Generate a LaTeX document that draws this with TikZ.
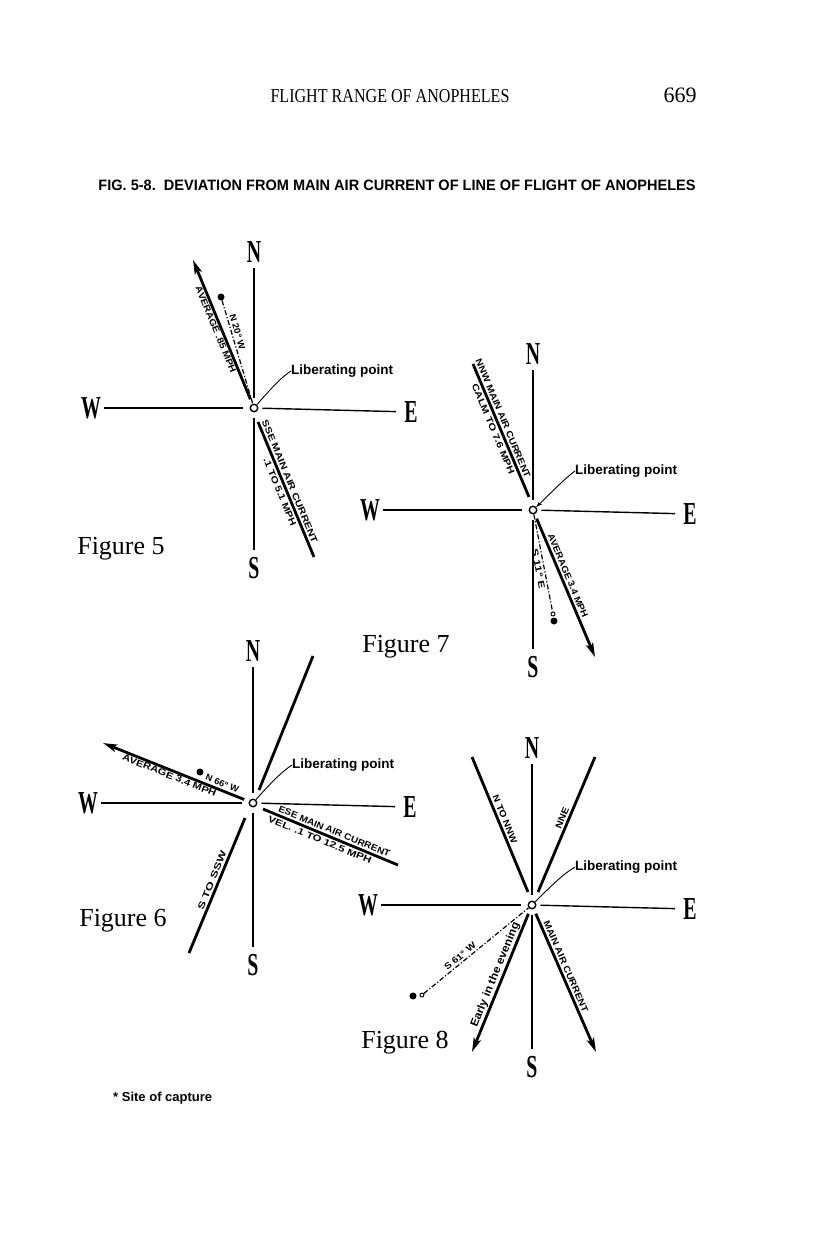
\documentclass[tikz,border=0pt]{standalone}
\usepackage{fontspec}
\setmainfont{Liberation Serif}
\setsansfont{Liberation Sans}
\usetikzlibrary{arrows.meta,calc}
\newcommand\lb[2]{\resizebox{#1pt}{6.3pt}{\sffamily\bfseries #2}}
\newcommand\lbx[2]{\resizebox{#1pt}{8pt}{\sffamily\bfseries #2}}
\newcommand\cmpL[1]{\scalebox{0.62}[1]{\fontsize{32}{32}\selectfont\bfseries #1}}
\tikzset{
  axis/.style={line width=1.4pt},
  wind/.style={line width=2.8pt},
  flight/.style={line width=2.8pt,shorten <=5pt,-{Stealth[length=14pt,width=7.5pt,inset=3pt]}},
  hub/.style={circle,draw,line width=1.4pt,minimum size=7.5pt,inner sep=0pt},
  cmp/.style={inner sep=0pt},
  lab/.style={inner sep=2pt,sloped},
  libl/.style={anchor=west,inner sep=0pt,font=\sffamily\bfseries\fontsize{13.5}{14}\selectfont},
  leader/.style={line width=0.9pt},
  track/.style={line width=1.2pt,dash pattern=on 5pt off 2pt on 1.2pt off 2pt},
  site/.style={circle,fill,inner sep=0pt,minimum size=7pt},
  ring/.style={circle,draw,line width=0.9pt,inner sep=0pt,minimum size=4pt},
  figlbl/.style={inner sep=0pt,font=\fontsize{26}{26}\selectfont}
}
\newcommand\rose[7]{%
  \node[hub] (o#1) at (#2,#3) {};
  \node[cmp] (N#1) at (#2,#4) {\cmpL{N}};
  \node[cmp] (S#1) at (#2,#5) {\cmpL{S}};
  \node[cmp] (W#1) at (#6,#3) {\cmpL{W}};
  \node[cmp] (E#1) at (#7,#3+4) {\cmpL{E}};
  \draw[axis,shorten <=5pt,shorten >=6pt] (N#1) -- (o#1);
  \draw[axis,shorten <=6pt,shorten >=7pt] (o#1) -- (S#1);
  \draw[axis,shorten <=3pt,shorten >=7pt] (W#1) -- (o#1);
  \draw[axis,shorten <=4pt,shorten >=8pt] (o#1) -- (E#1);
}
\begin{document}
\begin{tikzpicture}[x=1pt,y=-1pt]
\fill[white] (0,0) rectangle (816,1234);
\useasboundingbox (0,0) rectangle (816,1234);

% header
\node[inner sep=0pt] (hdr) at (390,96) {\resizebox{239pt}{13pt}{FLIGHT RANGE OF ANOPHELES}};
\node[inner sep=0pt] (pg) at (680,95) {\fontsize{22}{22}\selectfont 669};
\node[inner sep=0pt] (ttl) at (397,185) {\resizebox{597pt}{10.5pt}{\sffamily\bfseries FIG. 5-8.\ \ DEVIATION FROM MAIN AIR CURRENT OF LINE OF FLIGHT OF ANOPHELES}};

% ---------------- Figure 5
\rose{5}{254}{408}{252}{568}{91}{411}
\coordinate (t5) at (193,260);
\draw[flight] (o5) -- (t5);
\path (t5) -- (o5) node[lab,below,pos=0.47] (a5) {\lb{93}{AVERAGE .85 MPH}};
\node[site] (d5) at (221,297) {};
\draw[track] (d5) -- (o5) node[lab,above,pos=0.32] (n5) {\lb{36}{N 20\textdegree\ W}};
\coordinate (w5a) at (258,422);
\coordinate (w5b) at (314,557);
\draw[wind] (w5a) -- (w5b)
  node[lab,above,pos=0.46] (s5a) {\lb{132}{SSE MAIN AIR CURRENT}}
  node[lab,below,pos=0.5] (s5b) {\lb{72}{.1 TO 5.1 MPH}};
\node[libl] (L5) at (291,371) {Liberating point};
\draw[leader] (L5.west) .. controls (280,378) and (268,392) .. (o5);
\node[figlbl] (f5) at (121,549) {Figure 5};

% ---------------- Figure 7
\rose{7}{533}{510}{354}{667}{370}{690}
\coordinate (w7a) at (473,364);
\coordinate (w7b) at (529,497);
\draw[wind] (w7a) -- (w7b)
  node[lab,above,pos=0.43] (s7a) {\lb{128}{NNW MAIN AIR CURRENT}}
  node[lab,below,pos=0.47] (s7b) {\lb{97}{CALM TO 7.6 MPH}};
\node[libl] (L7) at (575,471) {Liberating point};
\draw[leader,-{Stealth[length=6pt,width=4pt]}] (L7.west) .. controls (563,480) and (552,492) .. (o7);
\coordinate (t7) at (595,657);
\draw[flight] (o7) -- (t7) node[lab,above,pos=0.45] (a7) {\lb{90}{AVERAGE 3.4 MPH}};
\node[ring] (r7) at (553,614) {};
\node[site] (d7) at (554,621) {};
\draw[track] (o7) -- (r7) node[lab,below,pos=0.55] (n7) {\lb{40}{S 11\textdegree\ E}};
\node[figlbl] (f7) at (406,647) {Figure 7};

% ---------------- Figure 6
\rose{6}{253}{803}{651}{965}{88}{410}
\coordinate (w6a) at (259,790);
\coordinate (w6b) at (313,656);
\draw[wind] (w6a) -- (w6b);
\coordinate (t6) at (103,743);
\draw[flight] (o6) -- (t6);
\path (t6) -- (o6)
  node[lab,below,pos=0.47] (a6) {\lb{100}{AVERAGE 3.4 MPH}}
  node[lab,above=1.5pt,pos=0.8] (n6) {\lb{35}{N 66\textdegree\ W}};
\node[site] (d6) at (200,772) {};
\coordinate (w6c) at (263,809);
\coordinate (w6d) at (398,865);
\draw[wind] (w6c) -- (w6d)
  node[lab,above,pos=0.51] (s6a) {\lb{120}{ESE MAIN AIR CURRENT}}
  node[lab,below,pos=0.44] (s6b) {\lb{111}{VEL. .1 TO 12.5 MPH}};
\coordinate (w6e) at (189,953);
\coordinate (w6f) at (245,818);
\draw[wind] (w6e) -- (w6f) node[lab,above,pos=0.52] (s6c) {\lb{62}{S TO SSW}};
\node[libl] (L6) at (292,765) {Liberating point};
\draw[leader] (L6.west) .. controls (281,772) and (268,786) .. (o6);
\node[figlbl] (f6) at (123,921) {Figure 6};

% ---------------- Figure 8
\rose{8}{532}{905}{748}{1067}{368}{690}
\coordinate (w8a) at (472,757);
\coordinate (w8b) at (528,892);
\draw[wind] (w8a) -- (w8b) node[lab,above,pos=0.48] (s8a) {\lb{51}{N TO NNW}};
\coordinate (w8c) at (538,892);
\coordinate (w8d) at (595,757);
\draw[wind] (w8c) -- (w8d) node[lab,above,pos=0.53] (s8b) {\lb{22}{NNE}};
\node[ring] (r8) at (422,995) {};
\node[site] (d8) at (413,996) {};
\draw[track] (r8) -- (o8) node[lab,above,pos=0.38] (n8) {\lb{38}{S 61\textdegree\ W}};
\coordinate (t8a) at (472,1052);
\coordinate (t8b) at (596,1052);
\draw[flight] (o8) -- (t8a);
\path (t8a) -- (o8) node[lab,above,pos=0.52] (e8) {\lbx{112}{Early in the evening}};
\draw[flight] (o8) -- (t8b) node[lab,above,pos=0.42] (m8) {\lb{99}{MAIN AIR CURRENT}};
\node[libl] (L8) at (575,867) {Liberating point};
\draw[leader] (L8.west) .. controls (563,874) and (550,887) .. (o8);
\node[figlbl] (f8) at (405,1043) {Figure 8};

% footnote
\node[anchor=west,inner sep=0pt] (fn) at (113,1098) {\sffamily\bfseries\fontsize{13}{13}\selectfont * Site of capture};
\end{tikzpicture}
\end{document}
